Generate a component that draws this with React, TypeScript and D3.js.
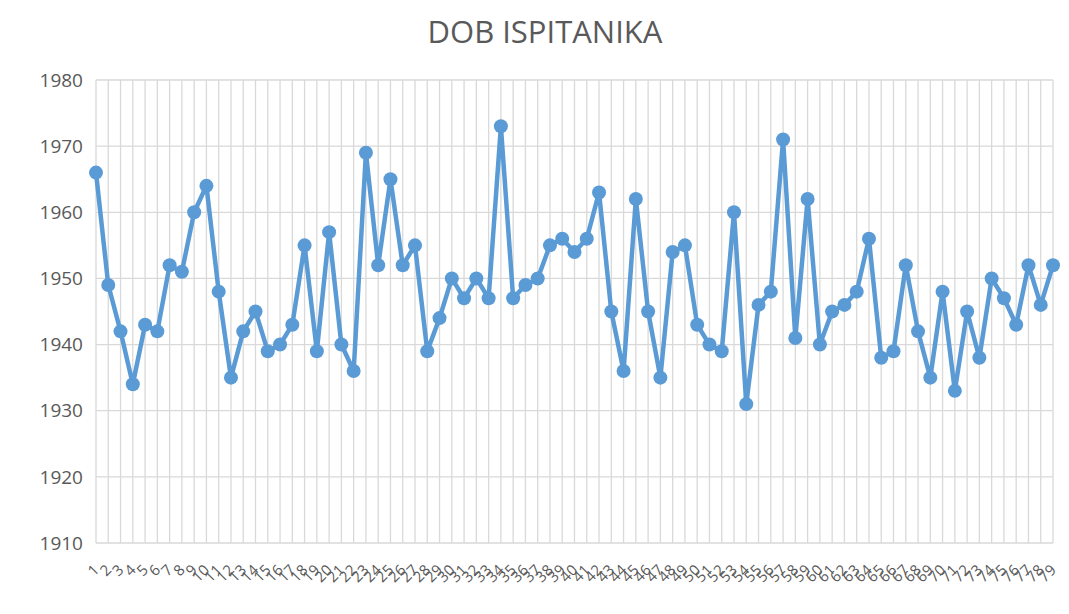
import React from 'react';
import * as d3 from 'd3';

const title = 'DOB ISPITANIKA';
const categories = d3.range(1, 80).map(String);
const values = [
  1966, 1949, 1942, 1934, 1943, 1942, 1952, 1951, 1960, 1964,
  1948, 1935, 1942, 1945, 1939, 1940, 1943, 1955, 1939, 1957,
  1940, 1936, 1969, 1952, 1965, 1952, 1955, 1939, 1944, 1950,
  1947, 1950, 1947, 1973, 1947, 1949, 1950, 1955, 1956, 1954,
  1956, 1963, 1945, 1936, 1962, 1945, 1935, 1954, 1955, 1943,
  1940, 1939, 1960, 1931, 1946, 1948, 1971, 1941, 1962, 1940,
  1945, 1946, 1948, 1956, 1938, 1939, 1952, 1942, 1935, 1948,
  1933, 1945, 1938, 1950, 1947, 1943, 1952, 1946, 1952,
];
const yTicks = [1910, 1920, 1930, 1940, 1950, 1960, 1970, 1980];

const width = 1069;
const height = 614;
const margin = { top: 80, right: 16, bottom: 71, left: 96 };

const App = () => {
  const x = d3.scalePoint<string>()
    .domain(categories)
    .range([margin.left, width - margin.right]);
  const y = d3.scaleLinear()
    .domain([1910, 1980])
    .range([height - margin.bottom, margin.top]);

  const line = d3.line<number>()
    .x((_, i) => x(categories[i]) as number)
    .y(d => y(d));

  const grid = '#d9d9d9';
  const textColor = '#595959';
  const font = '"Open Sans", "Noto Sans", sans-serif';

  return (
    <svg width={width} height={height} style={{ position: 'absolute', left: 0, top: 0, background: '#fff' }}>
      <rect x={0} y={0} width={width} height={height} fill="#fff" />
      <text x={545} y={43} textAnchor="middle" fontFamily={font} fontSize={31} fill={textColor}>{title}</text>
      {/* vertical gridlines */}
      {categories.map(c => (
        <line key={'v' + c} x1={x(c)} x2={x(c)} y1={y(1980)} y2={y(1910)} stroke={grid} strokeWidth={1.3} />
      ))}
      {/* horizontal gridlines */}
      {yTicks.map(t => (
        <line key={'h' + t} x1={margin.left} x2={width - margin.right} y1={y(t)} y2={y(t)} stroke={grid} strokeWidth={1.3} />
      ))}
      {yTicks.map(t => (
        <text key={'yl' + t} x={margin.left - 13} y={y(t)} dy="0.35em" textAnchor="end"
          fontFamily={font} fontSize={19} fill={textColor}>{t}</text>
      ))}
      {categories.map(c => (
        <text key={'xl' + c} transform={`translate(${(x(c) as number) + 4},${y(1910) + 28}) rotate(-45)`}
          textAnchor="end" fontFamily={font} fontSize={15} fill={textColor}>{c}</text>
      ))}
      <path d={line(values) || ''} fill="none" stroke="#5b9bd5" strokeWidth={4.5} strokeLinejoin="round" strokeLinecap="round" />
      {values.map((v, i) => (
        <circle key={'p' + i} cx={x(categories[i])} cy={y(v)} r={7} fill="#5b9bd5" />
      ))}
    </svg>
  );
};

export default App;
